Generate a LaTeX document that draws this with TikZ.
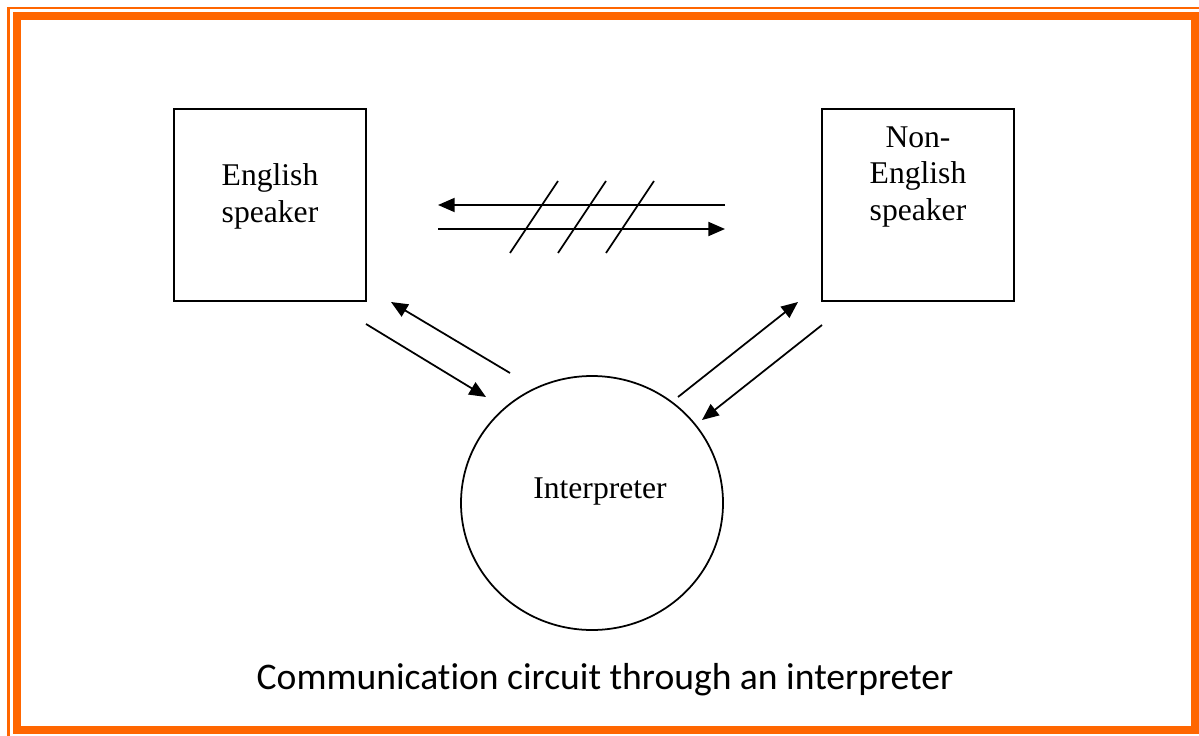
\documentclass[tikz,border=0pt]{standalone}
\usepackage{fontspec}
\setmainfont{Liberation Serif}
\newfontfamily\capfont[Ligatures=NoCommon]{Carlito}
\usetikzlibrary{arrows.meta}
\definecolor{frameorange}{HTML}{FF6600}
\tikzset{
  box/.style={draw, line width=1pt, minimum width=192*0.02cm, minimum height=192*0.02cm, inner sep=0pt},
  boxtext/.style={font=\fontsize{18}{21}\selectfont, align=center},
  arr/.style={line width=1pt, -{Triangle[length=9.5pt,width=8pt]}},
  slash/.style={line width=1pt},
}
\begin{document}
\begin{tikzpicture}[x=0.02cm,y=-0.02cm]
\useasboundingbox (0,0) rectangle (1199,736);
\fill[white] (0,0) rectangle (1199,736);
% frame
\draw[frameorange, line width=1.6pt] (8.5,1000) |- (1400,8);
\draw[frameorange, line width=4.6pt] (17,16) rectangle (1195,730);
% boxes
\node[box] (eng) at (270,205) {};
\node[boxtext] (engt) at (270,196) {English\\speaker};
\node[box] (non) at (918,205) {};
\node[boxtext] (nont) at (918,177) {Non-\\English\\speaker};
\draw[line width=1pt] (592,503) ellipse [x radius=131, y radius=127];
\node[boxtext] (interp) at (600,492) {Interpreter};
% top arrows
\coordinate (t1a) at (725,205); \coordinate (t1b) at (438,205);
\coordinate (t2a) at (438,229); \coordinate (t2b) at (725,229);
\draw[arr] (t1a) -- (t1b);
\draw[arr] (t2a) -- (t2b);
\coordinate (s1a) at (510,253); \coordinate (s1b) at (558,181);
\coordinate (s2a) at (558,253); \coordinate (s2b) at (606,181);
\coordinate (s3a) at (606,253); \coordinate (s3b) at (654,181);
\draw[slash] (s1a) -- (s1b);
\draw[slash] (s2a) -- (s2b);
\draw[slash] (s3a) -- (s3b);
% left arrows
\coordinate (l1a) at (510,373); \coordinate (l1b) at (391,302);
\coordinate (l2a) at (366,324); \coordinate (l2b) at (486,397);
\draw[arr] (l1a) -- (l1b);
\draw[arr] (l2a) -- (l2b);
% right arrows
\coordinate (r1a) at (678,397); \coordinate (r1b) at (798,302);
\coordinate (r2a) at (822,325); \coordinate (r2b) at (702,420);
\draw[arr] (r1a) -- (r1b);
\draw[arr] (r2a) -- (r2b);
% caption
\node[font=\capfont\fontsize{21.4}{25}\selectfont] (cap) at (605,680) {Communication circuit through an interpreter};
\end{tikzpicture}
\end{document}
